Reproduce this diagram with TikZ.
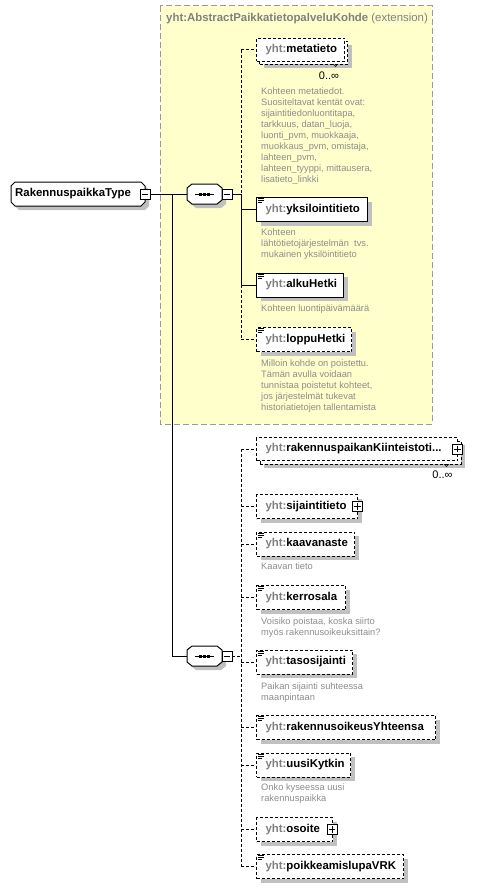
\documentclass[tikz,border=0pt]{standalone}
\usepackage{fontspec}
\setmainfont{Liberation Sans}
\usetikzlibrary{shadows}
\definecolor{yfill}{HTML}{FFFFCC}
\definecolor{ygray}{HTML}{808080}
\definecolor{dgray}{HTML}{8C8C8C}
\definecolor{shgray}{HTML}{C0C0C0}
\definecolor{bgray}{HTML}{9A9A9A}
\newcommand\chamfbox[6]{%
  \fill[shgray,shift={(4,4)}] ({#1+#5},#2) -- ({#3-#5},#2) -- (#3,{#2+#6}) -- (#3,{#4-#6}) -- ({#3-#5},#4) -- ({#1+#5},#4) -- (#1,{#4-#6}) -- (#1,{#2+#6}) -- cycle;
  \draw[line width=1pt,fill=white] ({#1+#5},#2) -- ({#3-#5},#2) -- (#3,{#2+#6}) -- (#3,{#4-#6}) -- ({#3-#5},#4) -- ({#1+#5},#4) -- (#1,{#4-#6}) -- (#1,{#2+#6}) -- cycle;}
\newcommand\ico[1]{\draw[line width=.8pt] ([xshift=1.5pt,yshift=-1.8pt]#1.north west) -- ++(6,0) ++(-6,2) -- ++(6,0) ++(-6,2) -- ++(4,0);}
\newcommand\elem[5]{\node[elem,#4,text width=#3pt] (#1) at (256,#2) {\noindent\hspace*{9pt}{\color{ygray}yht:}#5};}
\newcommand\plusbox[3]{\node[pm] (#1) at (#2,#3) {};
  \draw[line width=.8pt] ([xshift=2pt]#1.west) -- ([xshift=-2pt]#1.east) ([yshift=-2pt]#1.north) -- ([yshift=2pt]#1.south);}
\newcommand\minusbox[3]{\node[pm] (#1) at (#2,#3) {};
  \draw[line width=.8pt] ([xshift=2pt]#1.west) -- ([xshift=-2pt]#1.east);}
\newcommand\seqdots[1]{\draw[line width=1pt] ([xshift=-9.5pt]#1.center) -- ([xshift=9.5pt]#1.center);
  \foreach \d in {-4,0,4} {\fill ([xshift=\d pt-1.5pt,yshift=-1.5pt]#1.center) rectangle ++(3,-3);}}
\begin{document}
\begin{tikzpicture}[x=1pt,y=-1pt,
  dsh/.style={dash pattern=on 3pt off 2pt},
  shd/.style={drop shadow={shadow xshift=4pt,shadow yshift=-4pt,fill=shgray,opacity=1}},
  elem/.style={draw,line width=1pt,fill=white,anchor=west,minimum height=24,inner xsep=0,inner ysep=0,
    align=left,font=\fontsize{11.4}{13}\bfseries\selectfont},
  pm/.style={draw,fill=white,line width=.8pt,minimum size=10,inner sep=0},
  desc/.style={anchor=north west,inner sep=0,align=left,text=dgray,font=\fontsize{9.3}{11}\selectfont},
  mult/.style={inner sep=0,font=\fontsize{11}{13}\selectfont},
  conn/.style={line width=1pt}]
\useasboundingbox (0,0) rectangle (489,888);
% extension frame
\draw[bgray,line width=1pt,dash pattern=on 6pt off 3pt,fill=yfill] (160,6) rectangle (432,424);
\node[anchor=west,inner sep=0,text=ygray,font=\fontsize{11.4}{13}\selectfont] (title) at (166,19)
  {\textbf{yht:AbstractPaikkatietopalveluKohde} (extension)};
% root
\chamfbox{11}{182}{145}{206}{4}{4}
\node[anchor=west,inner sep=0,text width=134pt,minimum height=24,align=left,font=\fontsize{11.4}{13}\bfseries\selectfont] (root) at (11,194) {\noindent\hspace*{4pt}RakennuspaikkaType};
\minusbox{rootm}{145}{194}
% sequences
\chamfbox{187}{184}{222}{204}{5}{4}
\node[inner sep=0,minimum width=35,minimum height=20] (seq1) at (204.5,194) {};
\seqdots{seq1}
\minusbox{seq1m}{227}{194}
\chamfbox{187}{646}{222}{666}{5}{4}
\node[inner sep=0,minimum width=35,minimum height=20] (seq2) at (204.5,656) {};
\seqdots{seq2}
\minusbox{seq2m}{227}{656}
% group 1
\node[elem,dsh,shd,text width=88pt,minimum height=23] (metaback) at (259,53) {};
\elem{meta}{50}{88}{dsh,minimum height=23}{metatieto}
\draw[line width=.6pt] (333,64) -- (335.5,66.5) -- (338,64);
\node[mult] (meta-m) at (329,76) {0..∞};
\node[desc] (d-meta) at (261,87.5) {Kohteen metatiedot.\\Suositeltavat kentät ovat:\\sijaintitiedonluontitapa,\\tarkkuus, datan\_luoja,\\luonti\_pvm, muokkaaja,\\muokkaus\_pvm, omistaja,\\lahteen\_pvm,\\lahteen\_tyyppi, mittausera,\\lisatieto\_linkki};
\elem{yks}{209.5}{111}{shd}{yksilointitieto}\ico{yks}
\node[desc] (d-yks) at (261,228.5) {Kohteen\\lähtötietojärjestelmän\ \ tvs.\\mukainen yksilöintitieto};
\elem{alku}{285}{87}{shd}{alkuHetki}\ico{alku}
\node[desc] (d-alku) at (261,305) {Kohteen luontipäivämäärä};
\elem{loppu}{339.5}{95}{dsh,shd}{loppuHetki}\ico{loppu}
\node[desc] (d-loppu) at (261,359.5) {Milloin kohde on poistettu.\\Tämän avulla voidaan\\tunnistaa poistetut kohteet,\\jos järjestelmät tukevat\\historiatietojen tallentamista};
% group 2
\node[elem,dsh,shd,text width=201pt,minimum height=23] (rakback) at (259.5,452.5) {};
\elem{rak}{449}{201}{dsh,minimum height=23}{rakennuspaikanKiinteistoti...}
\plusbox{rakp}{457.5}{449}
\draw[line width=.6pt] (444,464) -- (446.5,466.5) -- (449,464);
\node[mult] (rak-m) at (442.5,475) {0..∞};
\elem{sij}{506.5}{101}{dsh,shd}{sijaintitieto}
\plusbox{sijp}{357.5}{506.5}
\elem{kaa}{544}{98}{dsh,shd}{kaavanaste}\ico{kaa}
\node[desc] (d-kaa) at (261,562.5) {Kaavan tieto};
\elem{ker}{597.5}{89}{dsh,shd}{kerrosala}\ico{ker}
\node[desc] (d-ker) at (261,617.5) {Voisiko poistaa, koska siirto\\myös rakennusoikeuksittain?};
\elem{tas}{662}{96}{dsh,shd}{tasosijainti}\ico{tas}
\node[desc] (d-tas) at (261,682.5) {Paikan sijainti suhteessa\\maanpintaan};
\elem{ryh}{727.5}{179}{dsh,shd}{rakennusoikeusYhteensa}\ico{ryh}
\elem{uus}{765}{94}{dsh,shd}{uusiKytkin}\ico{uus}
\node[desc] (d-uus) at (261,783.5) {Onko kyseessa uusi\\rakennuspaikka};
\elem{oso}{829.5}{76}{dsh,shd}{osoite}
\plusbox{osop}{332}{829.5}
\elem{poi}{866.5}{147}{dsh,shd}{poikkeamislupaVRK}\ico{poi}
% connectors
\coordinate (trunk) at (172,0);
\coordinate (bus) at (241,0);
\draw[conn] (rootm.east) -- (seq1.west);
\draw[conn] (rootm.east -| trunk) -- (seq2.west -| trunk) -- (seq2.west);
\draw[conn,dsh] (meta.west -| bus) -- (seq1m.east -| bus);
\draw[conn] (seq1m.east) -- (seq1m.east -| bus) -- (alku.west -| bus);
\draw[conn,dsh] (alku.west -| bus) -- (loppu.west -| bus);
\draw[conn,dsh] (meta.west -| bus) -- (meta.west);
\draw[conn] (yks.west -| bus) -- (yks.west);
\draw[conn] (alku.west -| bus) -- (alku.west);
\draw[conn,dsh] (loppu.west -| bus) -- (loppu.west);
\draw[conn,dsh] (seq2m.east) -- (seq2m.east -| bus);
\draw[conn,dsh] (rak.west -| bus) -- (poi.west -| bus);
\foreach \n in {rak,sij,kaa,ker,tas,ryh,uus,oso,poi} {\draw[conn,dsh] (\n.west -| bus) -- (\n.west);}
\end{tikzpicture}
\end{document}
